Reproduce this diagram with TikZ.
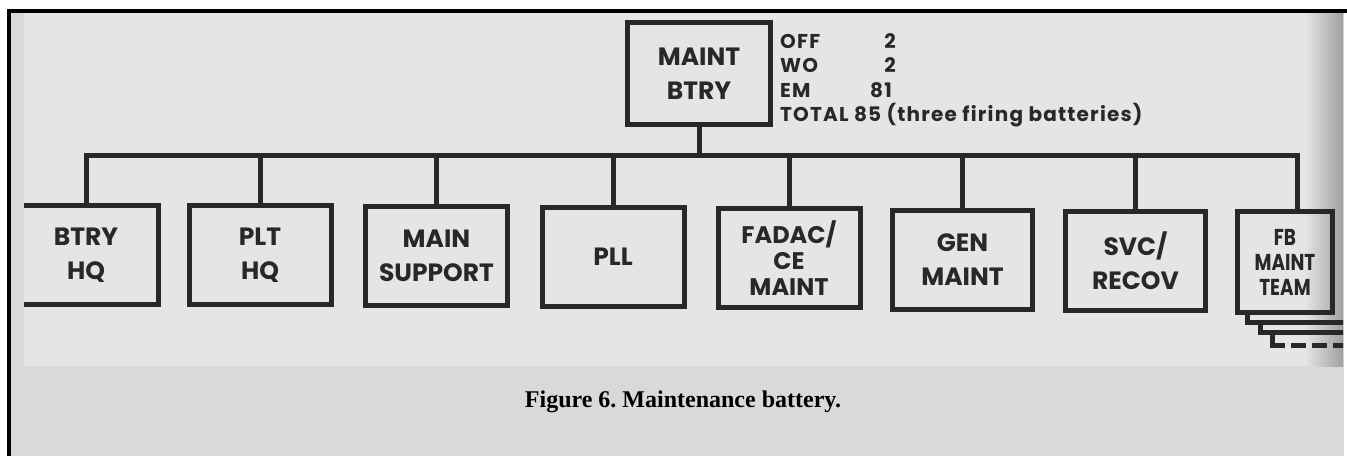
\documentclass[tikz,border=0pt]{standalone}
\usepackage{fontspec}
\setmainfont{Liberation Serif}
\newfontfamily\chartfont{Poppins}

\definecolor{pagegray}{RGB}{217,217,217}
\definecolor{scangray}{RGB}{229,229,229}
\definecolor{ink}{RGB}{40,40,40}

\begin{document}
\begin{tikzpicture}[x=1pt,y=-1pt,
    orgbox/.style={draw=ink,line width=5pt,minimum width=142pt,minimum height=99pt,
        inner sep=0pt,align=center,text=ink,
        font=\chartfont\bfseries\fontsize{25}{34}\selectfont},
    sidetext/.style={text=ink,inner sep=0pt,anchor=base west,
        font=\chartfont\bfseries\addfontfeature{LetterSpace=6}\fontsize{20}{20}\selectfont},
    orgline/.style={draw=ink,line width=5pt}]
    \useasboundingbox (0,0) rectangle (1347,456);

    % Draw page and frame
    \fill[pagegray] (11,13) rectangle (1344,456);
    \fill[black] (7,9) rectangle (1347,13);
    \fill[black] (7,9) rectangle (11,456);

    % Draw scanned chart area
    \fill[scangray] (24,13) rectangle (1343,366);
    \shade[left color=scangray,right color=gray!75] (1305,13) rectangle (1343,366);

    \begin{scope}
    \clip (24,13) rectangle (1343,366);

    % Top unit and strength
    \node[orgbox,minimum width=143pt,minimum height=102pt] (maint) at (699,73.5) {MAINT\\BTRY};
    \node[sidetext] (off) at (780,48) {OFF};
    \node[sidetext,anchor=base east] (offnum) at (896,48) {2};
    \node[sidetext] (wo) at (780,72) {WO};
    \node[sidetext,anchor=base east] (wonum) at (896,72) {2};
    \node[sidetext] (em) at (780,97) {EM};
    \node[sidetext,anchor=base east] (emnum) at (892,97) {81};
    \node[sidetext] (total) at (780,121) {TOTAL 85 (three firing batteries)};

    % Sections
    \node[orgbox,minimum width=145pt] (btryhq) at (86,255) {BTRY\\HQ};
    \node[orgbox] (plthq) at (260,255) {PLT\\HQ};
    \node[orgbox] (mainsup) at (436.5,255.5) {MAIN\\SUPPORT};
    \node[orgbox] (pll) at (613,256.5) {PLL};
    \node[orgbox,font=\chartfont\bfseries\fontsize{24}{26}\selectfont] (fadac) at (789,258) {FADAC/\\CE\\MAINT};
    \node[orgbox,minimum width=140pt] (genmaint) at (962.5,259.5) {GEN\\MAINT};
    \node[orgbox,minimum width=140pt] (svcrecov) at (1135.5,260.5) {SVC/\\RECOV};
    \node[orgbox,minimum width=95pt,minimum height=101pt,
        font=\chartfont\bfseries\addfontfeature{FakeStretch=0.8}\fontsize{23}{25}\selectfont] (fbteam) at (1285,262) {FB\\MAINT\\TEAM};

    % Draw connectors
    \coordinate (bus) at (0,155);
    \coordinate (fbdrop) at ([xshift=12pt]fbteam.north);
    \draw[orgline] (maint.south) -- (maint.south |- bus);
    \draw[orgline,line cap=rect] (btryhq.north |- bus) -- (fbdrop |- bus);
    \foreach \unit in {btryhq,plthq,mainsup,pll,fadac,genmaint,svcrecov}
        \draw[orgline] (\unit.north) -- (\unit.north |- bus);
    \draw[orgline] (fbdrop) -- (fbdrop |- bus);

    % Stacked teams behind FB
    \draw[orgline] ([shift={(12.5pt,2.5pt)}]fbteam.south west) -- ++(0,10) -- ++(120,0);
    \draw[orgline] ([shift={(25pt,-7.5pt)}]fbteam.south west) -- ++(0,10) -- ++(120,0);
    \draw[orgline] ([shift={(37.5pt,-17.5pt)}]fbteam.south west) -- ++(0,12.5) coordinate (fbdash);
    \draw[orgline,dash pattern=on 15pt off 6pt] ([xshift=-2.5pt]fbdash) -- ++(100,0);
    \end{scope}

    % Caption
    \node[font=\bfseries\frenchspacing\fontsize{24}{26}\selectfont] (caption) at (683,402) {Figure 6. Maintenance battery.};
\end{tikzpicture}
\end{document}
